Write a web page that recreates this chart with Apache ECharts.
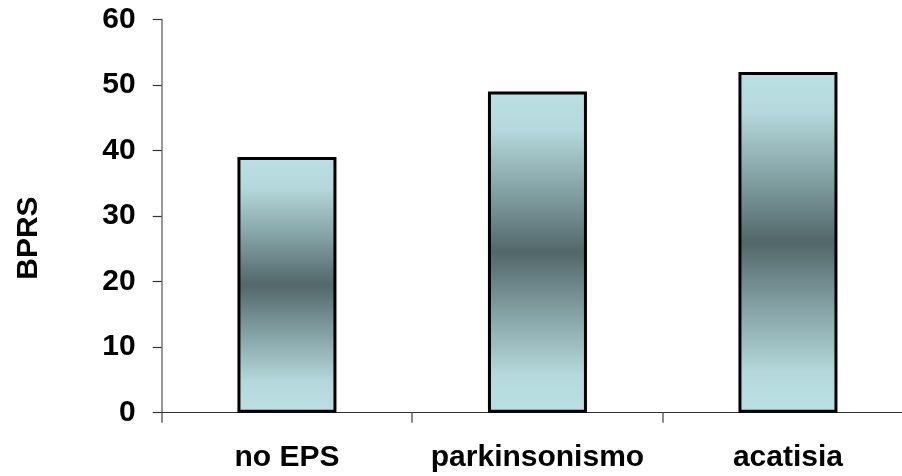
<!DOCTYPE html>
<html>
<head>
<meta charset="utf-8">
<script src="https://cdn.jsdelivr.net/npm/echarts@6/dist/echarts.min.js"></script>
<style>
html,body{margin:0;padding:0;background:#fff;}
#chart{width:902px;height:476px;}
</style>
</head>
<body>
<div id="chart"></div>
<script>
var categories = ['no EPS', 'parkinsonismo', 'acatisia'];
var bprsValues = [39, 49, 52];
var yAxisName = 'BPRS';

var chart = echarts.init(document.getElementById('chart'), null, {renderer: 'canvas'});
var fontFam = '"Liberation Sans", Arial, Helvetica, sans-serif';
var barGradient = new echarts.graphic.LinearGradient(0, 0, 0, 1, [
  {offset: 0, color: '#bbe0e3'},
  {offset: 0.12, color: '#b4d8db'},
  {offset: 0.3, color: '#86a4a7'},
  {offset: 0.5, color: '#52676a'},
  {offset: 0.7, color: '#86a4a7'},
  {offset: 0.88, color: '#b4d8db'},
  {offset: 1, color: '#bbe0e3'}
]);

chart.setOption({
  animation: false,
  backgroundColor: '#ffffff',
  grid: {left: 161.7, top: 19.5, right: -11.2, bottom: 63.3, containLabel: false, outerBoundsMode: 'none'},
  xAxis: {
    type: 'category',
    data: categories,
    boundaryGap: true,
    axisLine: {show: true, lineStyle: {color: '#333333', width: 1}},
    axisTick: {show: true, alignWithLabel: false, length: 10, lineStyle: {color: '#666666', width: 1.5}},
    axisLabel: {
      margin: 30,
      color: '#000000',
      fontSize: 30,
      fontWeight: 'bold',
      fontFamily: fontFam,
      interval: 0
    }
  },
  yAxis: {
    type: 'value',
    min: 0,
    max: 60,
    interval: 10,
    name: yAxisName,
    nameLocation: 'middle',
    nameGap: 118,
    nameRotate: 90,
    nameTextStyle: {color: '#000000', fontSize: 30, fontWeight: 'bold', fontFamily: fontFam, padding: [0, 44, 0, 0]},
    axisLine: {show: true, lineStyle: {color: '#777777', width: 1.5}},
    axisTick: {show: true, inside: false, length: 9, lineStyle: {color: '#333333', width: 1.2}},
    axisLabel: {
      margin: 26,
      color: '#000000',
      fontSize: 30,
      fontWeight: 'bold',
      fontFamily: fontFam
    },
    splitLine: {show: false}
  },
  series: [{
    type: 'bar',
    data: bprsValues,
    barWidth: 99,
    itemStyle: {
      color: barGradient,
      borderColor: '#000000',
      borderWidth: 3
    }
  }]
});
</script>
</body>
</html>
